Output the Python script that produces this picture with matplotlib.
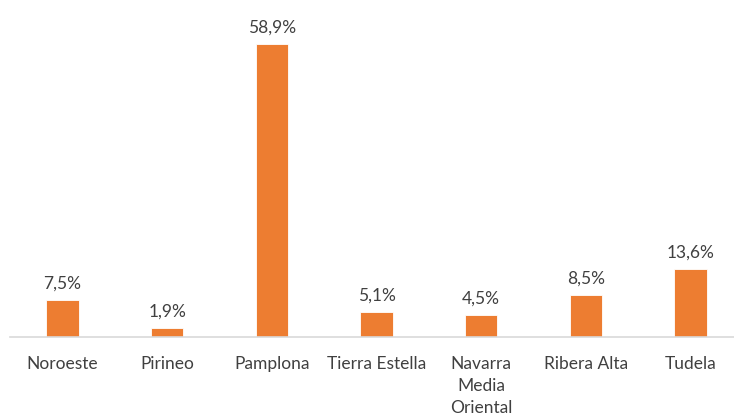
import matplotlib
matplotlib.use('Agg')
import matplotlib.pyplot as plt

regions = ['Noroeste', 'Pirineo', 'Pamplona', 'Tierra Estella',
           'Navarra\nMedia\nOriental', 'Ribera Alta', 'Tudela']
shares = [7.5, 1.9, 58.9, 5.1, 4.5, 8.5, 13.6]

plt.rcParams['font.family'] = ['Lato', 'DejaVu Sans']

fig = plt.figure(figsize=(7.34, 4.17), dpi=100)
ax = fig.add_axes([10 / 734, 80 / 417, 733 / 734, 298.5 / 417])

x = range(len(regions))
bars = ax.bar(x, shares, width=0.31, color='#ED7D31', edgecolor='white', linewidth=0.6)

for xi, v in zip(x, shares):
    ax.annotate(('%.1f%%' % v).replace('.', ','), (xi, v), xytext=(0, 6),
                textcoords='offset points', ha='center', va='bottom',
                fontsize=12.5, color='#404040')

ax.set_xlim(-0.5, 6.5)
ax.set_ylim(0, 60)
ax.set_xticks(list(x))
ax.set_xticklabels(regions, fontsize=12.5, color='#404040', linespacing=1.45)
ax.tick_params(axis='x', length=0, pad=14)
ax.set_yticks([])
for s in ['top', 'right', 'left']:
    ax.spines[s].set_visible(False)
ax.spines['bottom'].set_color('#D9D9D9')
ax.spines['bottom'].set_linewidth(1.2)

fig.savefig('out.png', dpi=100)
